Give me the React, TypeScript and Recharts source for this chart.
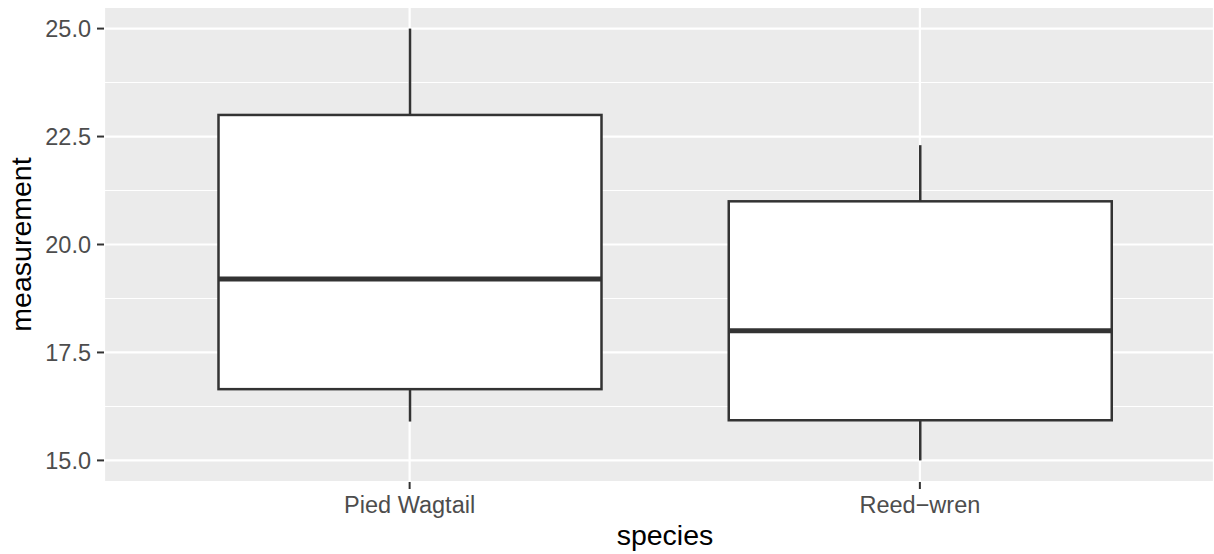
import { ComposedChart, Bar, XAxis, YAxis, CartesianGrid, Label } from 'recharts';

// Boxplot stats
const species = ['Pied Wagtail', 'Reed\u2212wren'];
const lowerWhisker = [15.9, 15.0];
const lowerHinge = [16.65, 15.93];
const medians = [19.2, 18.0];
const upperHinge = [23.0, 21.0];
const upperWhisker = [25.0, 22.3];

const yDomain = [14.5, 25.5];
const yTicks = [15, 17.5, 20, 22.5, 25];
const yMinorTicks = [16.25, 18.75, 21.25, 23.75];

const data = species.map((name, i) => ({
  name,
  min: lowerWhisker[i],
  q1: lowerHinge[i],
  median: medians[i],
  q3: upperHinge[i],
  max: upperWhisker[i],
}));

const FONT = '"Liberation Sans", Arial, Helvetica, sans-serif';
const INK = '#333333';

// minor grid positions; scale shape differs between recharts versions
const minorCoords = ({ yAxis, offset }: any) =>
  yMinorTicks.map((v) => {
    const s = yAxis && yAxis.scale;
    if (typeof s === 'function') return s(v);
    if (s && typeof s.map === 'function') return s.map(v);
    return offset.top + ((yDomain[1] - v) / (yDomain[1] - yDomain[0])) * offset.height;
  });

// The bar covers q1..q3; whiskers and median are placed with the same px/unit
const BoxShape = (props: any) => {
  const { x, y, width, height, payload } = props;
  const top = Math.min(y, y + height);
  const h = Math.abs(height);
  const k = h / (payload.q3 - payload.q1);
  const py = (v: number) => top + (payload.q3 - v) * k;
  const cx = x + width / 2;
  return (
    <g>
      <line x1={cx} x2={cx} y1={py(payload.max)} y2={top} stroke={INK} strokeWidth={2.5} />
      <line x1={cx} x2={cx} y1={top + h} y2={py(payload.min)} stroke={INK} strokeWidth={2.5} />
      <rect x={x} y={top} width={width} height={h} fill="#ffffff" stroke={INK} strokeWidth={2.5} />
      <line
        x1={x}
        x2={x + width}
        y1={py(payload.median)}
        y2={py(payload.median)}
        stroke={INK}
        strokeWidth={5}
      />
    </g>
  );
};

const App = () => {
  return (
    <div style={{ position: 'absolute', left: 0, top: 0, width: 1214, height: 554, background: '#fff' }}>
      <ComposedChart
        width={1214}
        height={554}
        data={data}
        margin={{ top: 7, right: 0, bottom: 0, left: 0 }}
      >
        <CartesianGrid fill="#EBEBEB" stroke="#ffffff" strokeWidth={2.2} />
        <CartesianGrid
          vertical={false}
          stroke="#ffffff"
          strokeWidth={1.1}
          horizontalCoordinatesGenerator={minorCoords}
        />
        <XAxis
          dataKey="name"
          type="category"
          height={72}
          padding={{ left: 50.5, right: 39 }}
          axisLine={false}
          tickLine={{ stroke: INK, strokeWidth: 2 }}
          tickSize={7}
          tickMargin={7}
          tick={{ fill: '#4D4D4D', fontSize: 23.5, fontFamily: FONT }}
        >
          <Label
            content={({ viewBox }: any) => (
              <text
                x={viewBox.x + viewBox.width / 2 + 6}
                y={545}
                textAnchor="middle"
                fontSize={28.5}
                fontFamily={FONT}
                fill="#000000"
              >
                species
              </text>
            )}
          />
        </XAxis>
        <YAxis
          type="number"
          width={104}
          domain={yDomain}
          ticks={yTicks}
          allowDataOverflow
          axisLine={false}
          tickLine={{ stroke: INK, strokeWidth: 2 }}
          tickSize={7}
          tickMargin={6}
          tickFormatter={(v: number) => v.toFixed(1)}
          tick={{ fill: '#4D4D4D', fontSize: 23.5, fontFamily: FONT }}
        >
          <Label
            content={({ viewBox }: any) => {
              const lx = viewBox.x + 31;
              const ly = viewBox.y + viewBox.height / 2;
              return (
                <text
                  x={lx}
                  y={ly}
                  transform={`rotate(-90, ${lx}, ${ly})`}
                  textAnchor="middle"
                  fontSize={28.5}
                  fontFamily={FONT}
                  fill="#000000"
                >
                  measurement
                </text>
              );
            }}
          />
        </YAxis>
        <Bar
          dataKey={(d: any) => [d.q1, d.q3]}
          barSize={383}
          shape={<BoxShape />}
          isAnimationActive={false}
        />
      </ComposedChart>
    </div>
  );
};

export default App;
